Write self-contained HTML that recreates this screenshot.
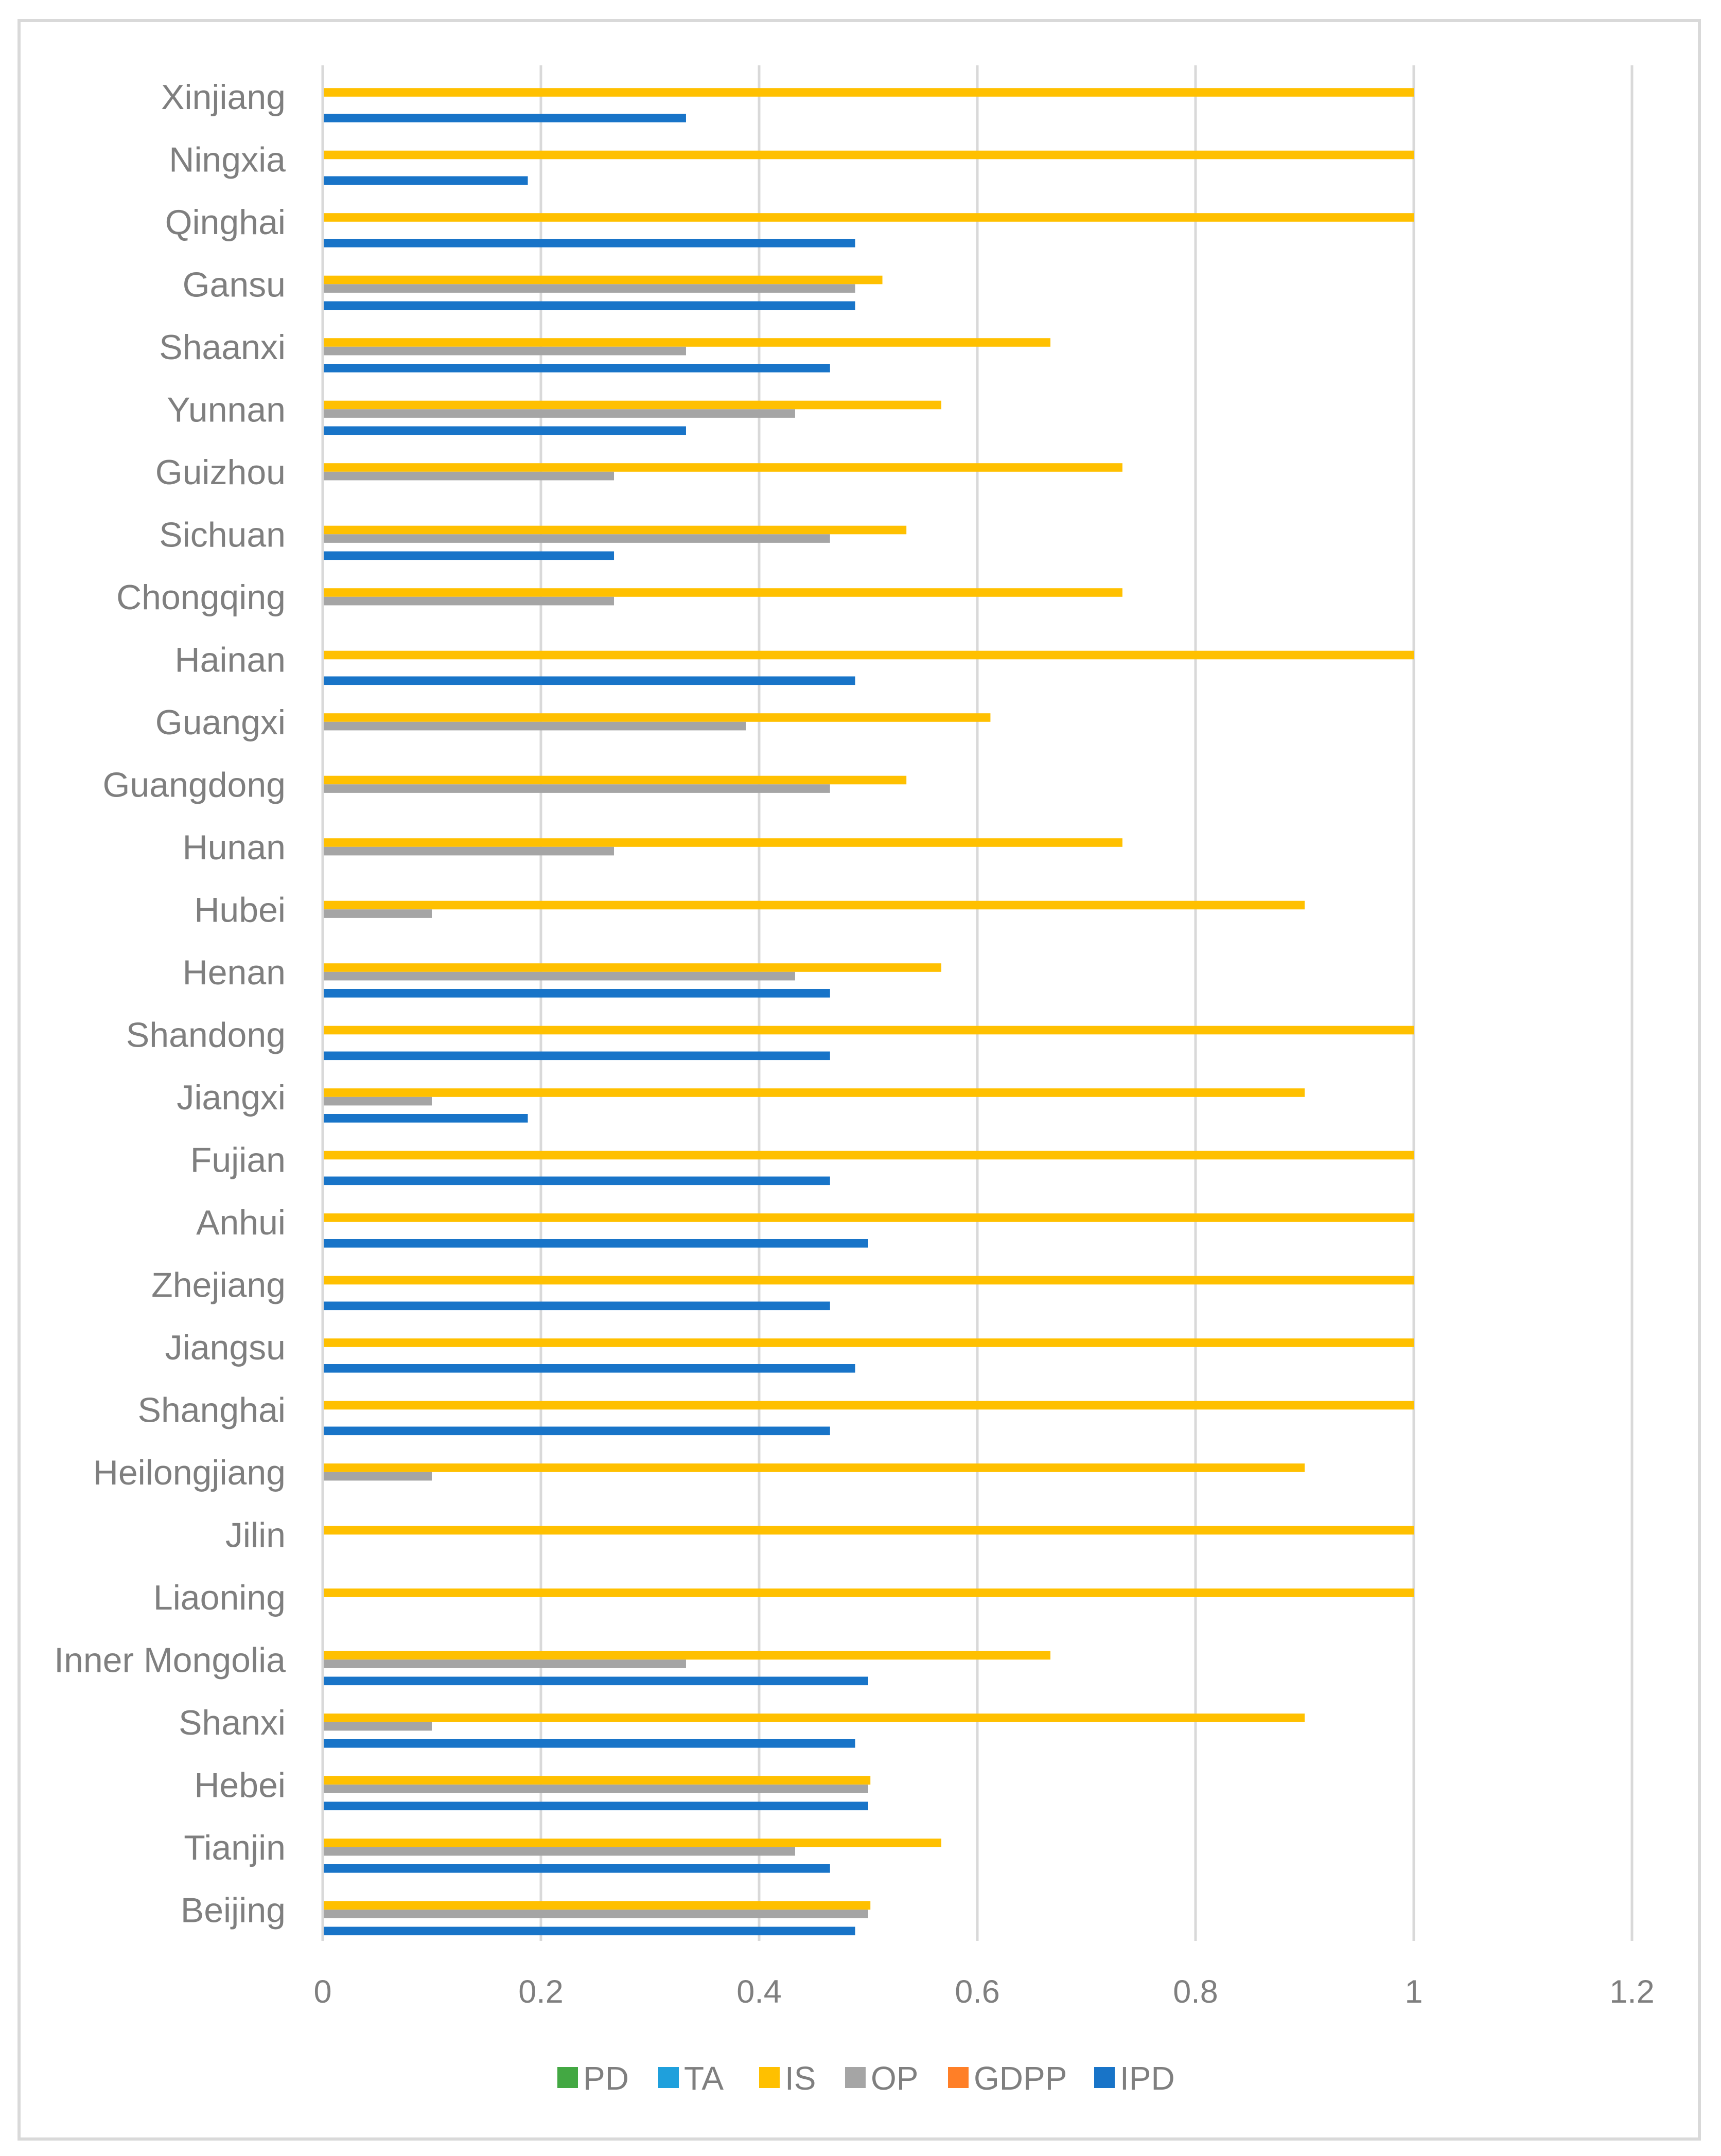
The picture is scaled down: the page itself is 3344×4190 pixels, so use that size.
<!DOCTYPE html>
<html>
<head>
<meta charset="utf-8">
<style>
html,body{margin:0;padding:0;background:#fff;}
svg{display:block;}
text{font-family:"Liberation Sans",sans-serif;fill:#7f7f7f;}
</style>
</head>
<body>
<svg id="chart" width="3344" height="4190" viewBox="0 0 3344 4190" xmlns="http://www.w3.org/2000/svg">
<rect x="37" y="40" width="3265" height="4117" fill="#fff" stroke="#d9d9d9" stroke-width="6"/>
<g id="grid"></g>
<g id="bars"></g>
<g id="ylabels"></g>
<g id="xlabels"></g>
<g id="legend"></g>
</svg>
<script>
const categories = ["Beijing","Tianjin","Hebei","Shanxi","Inner Mongolia","Liaoning","Jilin","Heilongjiang","Shanghai","Jiangsu","Zhejiang","Anhui","Fujian","Jiangxi","Shandong","Henan","Hubei","Hunan","Guangdong","Guangxi","Hainan","Chongqing","Sichuan","Guizhou","Yunnan","Shaanxi","Gansu","Qinghai","Ningxia","Xinjiang"];
const seriesNames = ["PD","TA","IS","OP","GDPP","IPD"];
const seriesColors = ["#43A843","#1FA0DC","#FFC000","#A5A5A5","#FF7F27","#1874C8"];
const PD = [0,0,0,0,0,0,0,0,0,0,0,0,0,0,0,0,0,0,0,0,0,0,0,0,0,0,0,0,0,0];
const TA = [0,0,0,0,0,0,0,0,0,0,0,0,0,0,0,0,0,0,0,0,0,0,0,0,0,0,0,0,0,0];
const IS = [0.502,0.567,0.502,0.9,0.667,1,1,0.9,1,1,1,1,1,0.9,1,0.567,0.9,0.733,0.535,0.612,1,0.733,0.535,0.733,0.567,0.667,0.513,1,1,1];
const OP = [0.5,0.433,0.5,0.1,0.333,0,0,0.1,0,0,0,0,0,0.1,0,0.433,0.1,0.267,0.465,0.388,0,0.267,0.465,0.267,0.433,0.333,0.488,0,0,0];
const GDPP = [0,0,0,0,0,0,0,0,0,0,0,0,0,0,0,0,0,0,0,0,0,0,0,0,0,0,0,0,0,0];
const IPD = [0.488,0.465,0.5,0.488,0.5,0,0,0,0.465,0.488,0.465,0.5,0.465,0.188,0.465,0.465,0,0,0,0,0.488,0,0.267,0,0.333,0.465,0.488,0.488,0.188,0.333];
const xTicks = [0,0.2,0.4,0.6,0.8,1,1.2];
const xTickLabels = ["0","0.2","0.4","0.6","0.8","1","1.2"];

const NS="http://www.w3.org/2000/svg";
const plotL=627, plotR=3171, plotT=127, plotB=3772, xMax=1.2;
const xs=v=>plotL+(v/xMax)*(plotR-plotL);
const band=(plotB-plotT)/categories.length;
const bandTop=i=>plotB-(i+1)*band;
const slot=16.6, pad=11;
const allSeries=[PD,TA,IS,OP,GDPP,IPD];

function mk(tag,attrs,parent){const e=document.createElementNS(NS,tag);for(const k in attrs)e.setAttribute(k,attrs[k]);parent.appendChild(e);return e;}

const grid=document.getElementById('grid');
xTicks.forEach((t,k)=>{
  const l=mk('line',{x1:xs(t),x2:xs(t),y1:plotT,y2:plotB,stroke:'#d9d9d9','stroke-width':5},grid);
  
  
  const tx=mk('text',{x:xs(t),y:3892,'text-anchor':'middle','font-size':63},document.getElementById('xlabels'));
  tx.textContent=xTickLabels[k];
  
  
});

const bars=document.getElementById('bars');
categories.forEach((c,i)=>{
  const top=bandTop(i);
  allSeries.forEach((arr,j)=>{
    const v=arr[i];
    if(v<=0)return;
    const r=mk('rect',{x:xs(0)+2,y:top+pad+j*slot,width:xs(v)-xs(0)-2,height:slot,fill:seriesColors[j]},bars);
    
    
  });
  const t=mk('text',{x:555,y:top+band/2+24,'text-anchor':'end','font-size':68},document.getElementById('ylabels'));
  t.textContent=c;
  
  
});

const legend=document.getElementById('legend');
const lx=[1083,1279,1475,1642,1842,2126];
seriesNames.forEach((n,j)=>{
  const g=mk('g',{},legend);
  
  
  mk('rect',{x:lx[j],y:4017,width:40,height:41,fill:seriesColors[j]},g);
  const t=mk('text',{x:lx[j]+50,y:4061,'font-size':64},g);
  t.textContent=n;
});
</script>
</body>
</html>
